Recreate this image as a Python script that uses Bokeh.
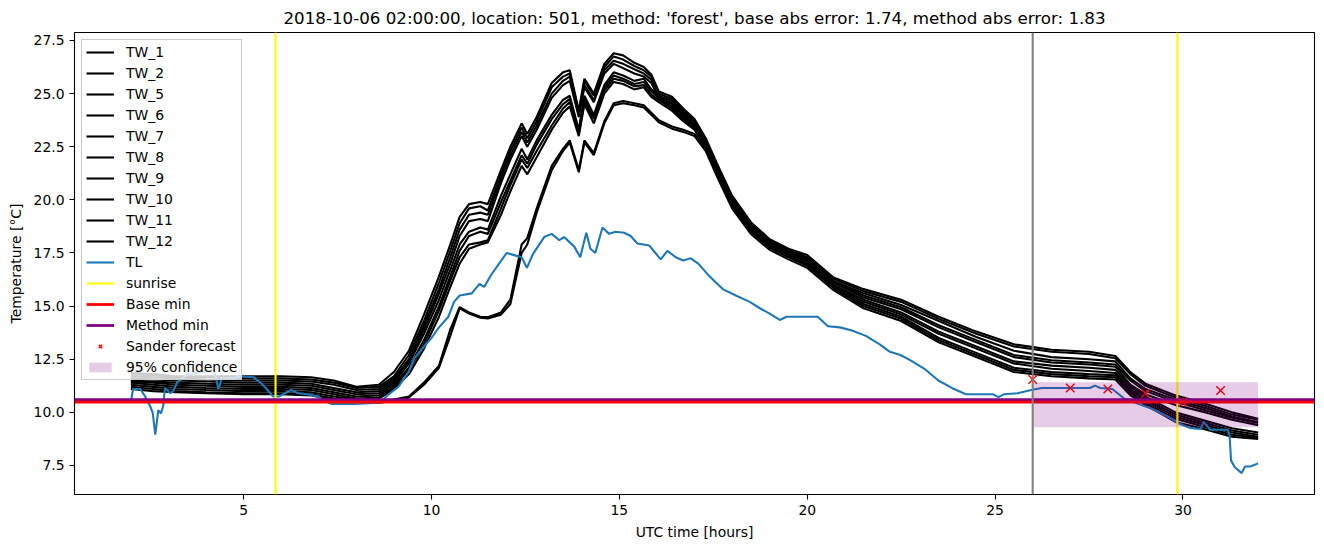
from bokeh.plotting import figure
from bokeh.models import Legend, LegendItem, FixedTicker, NumeralTickFormatter, Range1d
from bokeh.embed import file_html
from bokeh.resources import INLINE

TITLE = "2018-10-06 02:00:00, location: 501, method: 'forest', base abs error: 1.74, method abs error: 1.83"

# shared time axis of the TW series (UTC hours)
tw_time = [2.0, 2.6, 3.2, 4.0, 5.0, 6.0, 6.8, 7.4, 8.0, 8.6, 9.0, 9.4, 9.8, 10.2, 10.5, 10.75, 11.0, 11.3,
           11.5, 11.85, 12.1, 12.4, 12.55, 12.8, 13.2, 13.5, 13.68, 13.92, 14.07, 14.32, 14.6, 14.85, 15.1,
           15.4, 15.65, 15.85, 16.05, 16.4, 16.7, 17.0, 17.3, 17.6, 18.0, 18.5, 19.0, 19.5, 20.0, 20.7,
           21.5, 22.5, 23.5, 24.5, 25.5, 26.5, 27.5, 28.2, 28.6, 29.0, 29.8, 30.6, 31.3, 32.0]

TW_1 = [11.85, 11.8, 11.7, 11.7, 11.7, 11.7, 11.65, 11.5, 11.2, 11.3,
        11.9, 12.9, 14.6, 16.4, 17.9, 19.2, 19.8, 19.9, 19.8, 21.4, 22.5, 23.6, 23.1, 23.9, 25.5, 26.0,
        26.1, 24.2, 25.7, 25.0, 26.4, 26.9, 26.8, 26.45, 26.25, 25.9, 25.1, 24.85, 24.3, 23.8, 22.9,
        21.7, 20.2, 18.95, 18.15, 17.7, 17.4, 16.35, 15.8, 15.3, 14.5, 13.8, 13.2, 12.95, 12.85, 12.65,
        11.9, 11.35, 10.8, 10.4, 10.0, 9.7]
TW_2 = [11.8, 11.75, 11.65, 11.65, 11.6, 11.6, 11.55, 11.4, 11.15, 11.2,
        11.7, 12.7, 14.3, 16.1, 17.6, 18.9, 19.6, 19.7, 19.5, 21.2, 22.3, 23.4, 22.9, 23.7, 25.3, 25.8,
        25.95, 24.1, 25.6, 24.9, 26.25, 26.75, 26.6, 26.3, 26.1, 25.8, 25.0, 24.75, 24.2, 23.7, 22.8,
        21.6, 20.1, 18.85, 18.1, 17.65, 17.3, 16.3, 15.7, 15.2, 14.4, 13.7, 13.1, 12.85, 12.75, 12.55,
        11.8, 11.25, 10.7, 10.3, 9.9, 9.65]
TW_5 = [11.7, 11.65, 11.6, 11.55, 11.5, 11.5, 11.45, 11.3, 11.05, 11.1,
        11.6, 12.5, 14.1, 15.8, 17.3, 18.6, 19.3, 19.4, 19.3, 21.0, 22.1, 23.2, 22.7, 23.5, 25.0, 25.6,
        25.8, 24.0, 25.4, 24.7, 26.1, 26.55, 26.4, 26.15, 25.95, 25.65, 24.9, 24.65, 24.1, 23.65, 22.7,
        21.55, 20.05, 18.8, 18.05, 17.6, 17.25, 16.2, 15.6, 15.05, 14.3, 13.55, 12.9, 12.6, 12.5, 12.4,
        11.6, 11.1, 10.6, 10.2, 9.8, 9.55]
TW_6 = [11.6, 11.55, 11.5, 11.45, 11.4, 11.4, 11.35, 11.15, 10.95, 11.0,
        11.5, 12.4, 13.9, 15.6, 17.0, 18.3, 19.0, 19.1, 19.0, 20.8, 21.9, 23.0, 22.5, 23.3, 24.8, 25.4,
        25.6, 23.9, 25.3, 24.6, 25.95, 26.4, 26.2, 25.95, 25.8, 25.5, 24.8, 24.55, 24.0, 23.55, 22.65,
        21.5, 20.0, 18.75, 18.0, 17.55, 17.2, 16.15, 15.5, 14.95, 14.1, 13.4, 12.7, 12.45, 12.35, 12.25,
        11.5, 11.0, 10.5, 10.1, 9.75, 9.5]
TW_7 = [11.5, 11.45, 11.4, 11.35, 11.3, 11.3, 11.25, 11.05, 10.85, 10.9,
        11.4, 12.3, 13.7, 15.3, 16.7, 17.9, 18.5, 18.7, 18.6, 20.2, 21.2, 22.4, 21.9, 22.8, 24.0, 24.7,
        24.9, 23.3, 24.9, 24.0, 25.4, 26.0, 25.85, 25.6, 25.7, 25.2, 24.9, 24.5, 24.0, 23.5, 22.6,
        21.45, 19.95, 18.7, 17.95, 17.5, 17.15, 16.1, 15.4, 14.85, 14.0, 13.3, 12.6, 12.35, 12.25, 12.15,
        11.3, 10.85, 10.35, 10.0, 9.65, 9.4]
TW_8 = [11.45, 11.4, 11.3, 11.25, 11.2, 11.2, 11.15, 10.95, 10.75, 10.8,
        11.3, 12.1, 13.4, 15.0, 16.4, 17.6, 18.3, 18.5, 18.4, 19.9, 20.9, 22.1, 21.7, 22.6, 23.8, 24.5,
        24.75, 23.2, 24.8, 23.9, 25.3, 25.85, 25.7, 25.45, 25.55, 25.1, 24.8, 24.4, 23.9, 23.45, 22.55,
        21.4, 19.9, 18.65, 17.9, 17.45, 17.1, 16.0, 15.3, 14.7, 13.8, 13.1, 12.4, 12.2, 12.1, 12.0,
        11.2, 10.75, 10.0, 9.6, 9.25, 9.05]
TW_9 = [11.4, 11.3, 11.2, 11.15, 11.1, 11.1, 11.05, 10.85, 10.65, 10.7,
        11.2, 12.0, 13.2, 14.8, 16.2, 17.3, 17.9, 18.0, 18.1, 19.6, 20.7, 21.9, 21.5, 22.3, 23.5, 24.3,
        24.6, 23.1, 24.6, 23.8, 25.15, 25.7, 25.6, 25.35, 25.4, 24.95, 24.7, 24.3, 23.8, 23.4, 22.5,
        21.35, 19.85, 18.6, 17.85, 17.4, 17.0, 15.95, 15.2, 14.6, 13.7, 13.0, 12.3, 12.05, 11.95, 11.85,
        11.1, 10.65, 9.9, 9.5, 9.15, 8.95]
TW_10 = [11.3, 11.2, 11.1, 11.05, 11.0, 11.0, 10.95, 10.75, 10.6, 10.65,
         11.1, 11.8, 13.0, 14.5, 15.9, 17.0, 17.7, 17.9, 18.0, 19.3, 20.4, 21.6, 21.2, 22.0, 23.3, 24.1,
         24.4, 23.0, 24.5, 23.6, 25.0, 25.55, 25.45, 25.2, 25.3, 24.85, 24.6, 24.2, 23.7, 23.3, 22.45,
         21.3, 19.8, 18.55, 17.8, 17.35, 16.95, 15.9, 15.1, 14.5, 13.5, 12.8, 12.1, 11.9, 11.8, 11.75,
         11.0, 10.55, 9.8, 9.4, 9.05, 8.85]
TW_11 = [11.2, 11.1, 11.0, 10.95, 10.9, 10.9, 10.85, 10.65, 10.5, 10.5,
         10.6, 10.75, 11.4, 12.2, 13.9, 14.95, 14.7, 14.5, 14.48, 14.7, 15.3, 17.9, 18.2, 19.6, 21.6, 22.4,
         22.8, 21.4, 22.8, 22.2, 23.7, 24.55, 24.65, 24.55, 24.45, 24.1, 23.75, 23.45, 23.3, 23.1, 22.4,
         21.2, 19.7, 18.5, 17.75, 17.3, 16.9, 15.85, 15.0, 14.4, 13.4, 12.7, 12.0, 11.8, 11.7, 11.65,
         10.9, 10.45, 9.7, 9.3, 8.95, 8.8]
TW_12 = [11.1, 11.0, 10.95, 10.9, 10.85, 10.85, 10.8, 10.6, 10.45, 10.45,
         10.55, 10.7, 11.3, 12.1, 13.6, 14.9, 14.65, 14.45, 14.42, 14.6, 15.1, 17.5, 17.9, 19.4, 21.4, 22.3,
         22.7, 21.3, 22.7, 22.1, 23.6, 24.45, 24.55, 24.45, 24.35, 24.0, 23.65, 23.35, 23.2, 23.0, 22.3,
         21.1, 19.6, 18.4, 17.65, 17.2, 16.8, 15.75, 14.9, 14.3, 13.3, 12.6, 11.9, 11.7, 11.6, 11.55,
         10.8, 10.35, 9.55, 9.2, 8.85, 8.75]

tw_names = ["TW_1", "TW_2", "TW_5", "TW_6", "TW_7", "TW_8", "TW_9", "TW_10", "TW_11", "TW_12"]
tw_series = [TW_1, TW_2, TW_5, TW_6, TW_7, TW_8, TW_9, TW_10, TW_11, TW_12]

# TL (air temperature) series
tl_time = [2.0, 2.06, 2.25, 2.38, 2.51, 2.58, 2.65, 2.73, 2.8, 2.86, 2.91, 3.05, 3.13, 3.23, 3.5, 3.9,
           4.2, 4.28, 4.33, 4.42, 4.7, 4.92, 5.27, 5.45, 5.64, 5.78, 5.95, 6.1, 6.26, 6.45, 6.7, 6.98,
           7.14, 7.33, 7.94, 8.58, 8.74, 8.9, 9.12, 9.39, 9.55, 9.8, 10.0, 10.2, 10.45, 10.6, 10.75,
           11.07, 11.28, 11.4, 11.6, 11.8, 12.0, 12.2, 12.4, 12.54, 12.7, 13.0, 13.2, 13.4, 13.53, 13.8,
           13.96, 14.12, 14.23, 14.36, 14.55, 14.73, 14.9, 15.13, 15.3, 15.48, 15.8, 15.96, 16.1, 16.28,
           16.5, 16.7, 16.9, 17.1, 17.4, 17.75, 18.1, 18.47, 18.74, 19.0, 19.27, 19.45, 20.28, 20.55,
           20.87, 21.19, 21.56, 21.93, 22.2, 22.48, 22.75, 23.12, 23.49, 23.85, 24.22, 24.95, 25.09,
           25.23, 25.6, 25.96, 26.24, 27.52, 27.66, 27.8, 28.12, 28.44, 28.81, 29.17, 29.63, 29.91,
           30.18, 30.46, 30.55, 30.73, 31.19, 31.24, 31.28, 31.38, 31.56, 31.65, 31.79, 32.0]
tl_temp = [10.5, 11.1, 11.1, 10.75, 10.3, 10.0, 8.95, 10.1, 9.95, 10.3, 11.15, 10.9, 11.0, 11.4, 11.8, 11.9,
           12.0, 11.5, 11.1, 11.6, 11.6, 11.7, 11.65, 11.4, 11.05, 10.75, 10.75, 10.9, 11.05, 10.9, 10.85, 10.75,
           10.55, 10.4, 10.4, 10.45, 10.65, 10.9, 11.2, 11.9, 12.55, 13.1, 13.5, 14.0, 14.5, 15.2, 15.5,
           15.6, 16.05, 15.9, 16.5, 17.0, 17.5, 17.4, 17.3, 16.8, 17.45, 18.25, 18.4, 18.1, 18.25, 17.8,
           17.3, 18.45, 17.7, 17.5, 18.7, 18.4, 18.5, 18.45, 18.3, 17.95, 17.85, 17.5, 17.2, 17.6,
           17.3, 17.15, 17.25, 17.0, 16.4, 15.8, 15.5, 15.2, 14.9, 14.65, 14.35, 14.5, 14.5, 14.05,
           14.0, 13.85, 13.6, 13.2, 12.85, 12.7, 12.45, 12.05, 11.5, 11.15, 10.85, 10.85, 10.72,
           10.85, 10.9, 11.05, 11.15, 11.15, 11.26, 11.15, 11.1, 10.64, 10.4, 10.17, 9.77, 9.46,
           9.27, 9.22, 9.54, 9.18, 9.18, 8.91, 7.73, 7.42, 7.14, 7.45, 7.45, 7.6]

sunrise = [5.85, 29.85]
base_min = 10.48
method_min = 10.6
forecast_start = 26.0
fc_time = [26, 27, 28, 29, 30, 31]
fc_temp = [11.55, 11.15, 11.1, 10.9, 10.48, 11.03]
conf_time = [26, 32]
conf_low = [9.3, 9.3]
conf_high = [11.42, 11.42]

x_ticks = [5, 10, 15, 20, 25, 30]
y_ticks = [7.5, 10.0, 12.5, 15.0, 17.5, 20.0, 22.5, 25.0, 27.5]
X_MIN, X_MAX = 0.5, 33.5
Y_MIN, Y_MAX = 6.135, 27.876

FONT = "DejaVu Sans"

p = figure(width=1324, height=547, output_backend="svg", toolbar_location=None,
           x_range=Range1d(X_MIN, X_MAX), y_range=Range1d(Y_MIN, Y_MAX),
           min_border_left=74, min_border_right=10, min_border_top=32, min_border_bottom=53)
p.background_fill_color = "white"
p.border_fill_color = "white"
p.outline_line_color = "black"
p.outline_line_width = 1.1
p.xgrid.visible = False
p.ygrid.visible = False

p.title.text = TITLE
p.title.align = "center"
p.title.text_font = FONT
p.title.text_font_size = "16.7px"
p.title.text_font_style = "normal"
p.title.text_color = "black"

for ax in (p.xaxis[0], p.yaxis[0]):
    ax.axis_line_color = None
    ax.major_tick_out = 5
    ax.major_tick_in = 0
    ax.major_tick_line_color = "black"
    ax.major_tick_line_width = 1.1
    ax.minor_tick_line_color = None
    ax.major_label_text_font = FONT
    ax.major_label_text_font_size = "13.9px"
    ax.major_label_text_color = "black"
    ax.axis_label_text_font = FONT
    ax.axis_label_text_font_size = "13.9px"
    ax.axis_label_text_font_style = "normal"
    ax.axis_label_text_color = "black"
    ax.major_label_standoff = 5

p.xaxis.ticker = FixedTicker(ticks=x_ticks)
p.yaxis.ticker = FixedTicker(ticks=y_ticks)
p.yaxis.formatter = NumeralTickFormatter(format="0.0")
p.xaxis.axis_label = "UTC time [hours]"
p.yaxis.axis_label = "Temperature [°C]"
p.xaxis.axis_label_standoff = 6
p.yaxis.axis_label_standoff = 7

items = []
for name, vals in zip(tw_names, tw_series):
    r = p.line(tw_time, vals, line_color="black", line_width=2.1)
    items.append(LegendItem(label=name, renderers=[r]))

r_tl = p.line(tl_time, tl_temp, line_color="#1f77b4", line_width=2.1)
items.append(LegendItem(label="TL", renderers=[r_tl]))

r_sun = p.multi_line(xs=[[s, s] for s in sunrise], ys=[[Y_MIN, Y_MAX] for s in sunrise],
                     line_color="yellow", line_width=2.1)
items.append(LegendItem(label="sunrise", renderers=[r_sun], index=0))

r_meth = p.line([X_MIN, X_MAX], [method_min, method_min], line_color="purple", line_width=2.8)
r_base = p.line([X_MIN, X_MAX], [base_min, base_min], line_color="red", line_width=2.8)
items.append(LegendItem(label="Base min", renderers=[r_base]))
items.append(LegendItem(label="Method min", renderers=[r_meth]))

r_fc = p.scatter(fc_time, fc_temp, marker="x", size=12, line_color="red", line_width=1.5)
items.append(LegendItem(label="Sander forecast", renderers=[r_fc]))

r_conf = p.varea(x=conf_time, y1=conf_low, y2=conf_high, fill_color="purple", fill_alpha=0.2)
items.append(LegendItem(label="95% confidence", renderers=[r_conf]))

p.line([forecast_start, forecast_start], [Y_MIN, Y_MAX], line_color="gray", line_width=2.1)

legend = Legend(items=items, location="top_left", margin=7, padding=4, spacing=5,
                glyph_width=28, glyph_height=12, label_height=12, label_standoff=12,
                label_text_font=FONT, label_text_font_size="13.9px", label_text_color="black",
                border_line_color="#cccccc", border_line_width=1, border_line_alpha=1.0,
                background_fill_color="white", background_fill_alpha=0.8)
p.add_layout(legend)

open("out.html", "w").write(file_html(p, INLINE))
